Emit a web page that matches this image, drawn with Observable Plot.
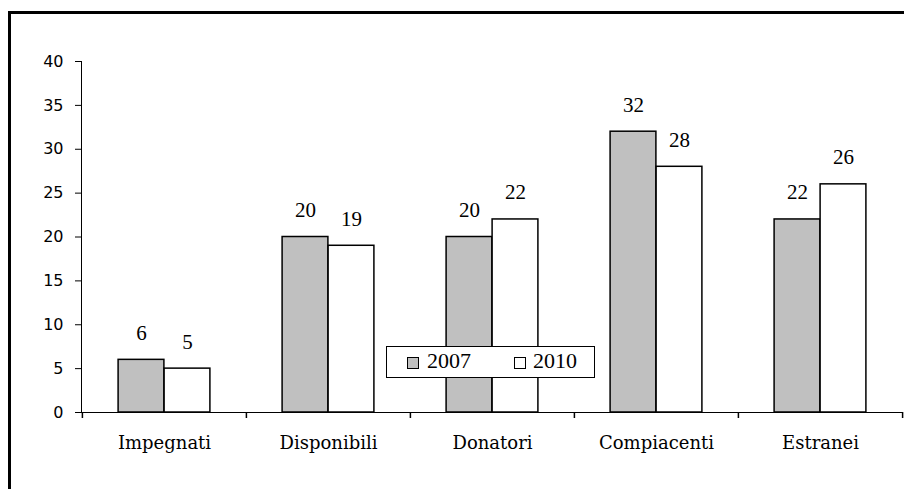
<!DOCTYPE html>
<html><head><meta charset="utf-8">
<script src="https://cdn.jsdelivr.net/npm/d3@7"></script>
<script src="https://cdn.jsdelivr.net/npm/@observablehq/plot@0.6"></script>
<style>
body{margin:0;background:#fff;}
#wrap{position:relative;width:904px;height:489px;overflow:hidden;background:#fff;}
#border{position:absolute;left:8px;top:11px;width:1000px;height:1000px;border-left:3px solid #000;border-top:3px solid #000;pointer-events:none;}
#legend{position:absolute;left:386px;top:346px;width:207px;height:30px;border:1.5px solid #000;background:#fff;}
#legend .sw{position:absolute;top:10px;width:10px;height:10px;border:1.5px solid #000;}
#legend .lt{position:absolute;top:2px;font-family:"Liberation Serif",serif;font-size:22px;line-height:24px;color:#000;}
g[aria-label="y-axis tick label"]{font-family:"DejaVu Sans",sans-serif;font-size:16px;}
g[aria-label="x-axis tick label"]{font-family:"DejaVu Serif",serif;font-size:18px;}
</style>
</head><body>
<div id="wrap"><div id="chart"></div><div id="legend"></div><div id="border"></div></div>
<script>
const categories = ["Impegnati","Disponibili","Donatori","Compiacenti","Estranei"];
const series = ["2007","2010"];
const values2007 = [6,20,20,32,22];
const values2010 = [5,19,22,28,26];
const yTicks = [0,5,10,15,20,25,30,35,40];
const colors = ["#c0c0c0","#ffffff"];

const data = [];
categories.forEach((c,i)=>{
  data.push({cat:c, year:series[0], v:values2007[i]});
  data.push({cat:c, year:series[1], v:values2010[i]});
});

const W = 904, H = 489, mL = 81, mR = 2, mT = 61, mB = 77;
const step = (W - mL - mR) / categories.length;
const half = step / 2;
const barW = 46;

const d07 = data.filter(d=>d.year===series[0]);
const d10 = data.filter(d=>d.year===series[1]);

const chart = Plot.plot({
  width: W, height: H,
  marginLeft: mL, marginRight: mR, marginTop: mT, marginBottom: mB,
  style: {background:"transparent", color:"#000"},
  x: {domain: categories, padding: 0, tickSize: 0, tickPadding: 24, line: true, label: null},
  y: {domain: [0,40], ticks: yTicks, tickSize: 6, tickPadding: 12, line: true, label: null},
  marks: [
    Plot.barY(d07, {x:"cat", y:"v", fill: colors[0], stroke:"#000", strokeWidth:1.5, insetLeft: half - barW, insetRight: half}),
    Plot.barY(d10, {x:"cat", y:"v", fill: colors[1], stroke:"#000", strokeWidth:1.5, insetLeft: half, insetRight: half - barW}),
    Plot.text(d07, {x:"cat", y:"v", text: d=>String(d.v), dx: -barW/2, dy: -20, lineAnchor:"bottom", fontFamily:"Liberation Serif", fontSize:21, fill:"#000"}),
    Plot.text(d10, {x:"cat", y:"v", text: d=>String(d.v), dx: barW/2, dy: -20, lineAnchor:"bottom", fontFamily:"Liberation Serif", fontSize:21, fill:"#000"}),
    Plot.ruleX(categories, {x: d=>d, y1: 0, y2: 0, dx: -half, insetBottom: -6, stroke:"#000", strokeWidth:1.5}),
    Plot.ruleX(categories.slice(-1), {x: d=>d, y1: 0, y2: 0, dx: half, insetBottom: -6, stroke:"#000", strokeWidth:1.5})
  ]
});
document.getElementById("chart").appendChild(chart);

// legend
const lg = document.getElementById("legend");
const swX = [20, 127], txX = [40, 146];
series.forEach((s,i)=>{
  const sw = document.createElement("div");
  sw.className = "sw"; sw.style.left = swX[i] + "px"; sw.style.background = colors[i];
  lg.appendChild(sw);
  const t = document.createElement("div");
  t.className = "lt"; t.style.left = txX[i] + "px"; t.textContent = s;
  lg.appendChild(t);
});
</script>
</body></html>
